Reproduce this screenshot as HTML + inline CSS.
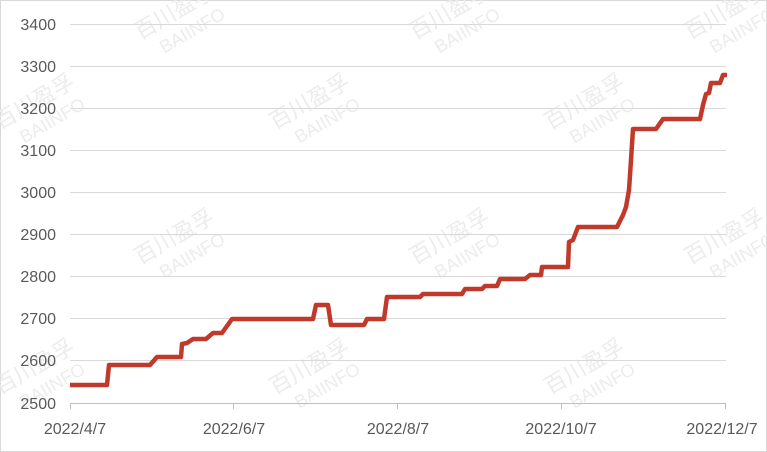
<!DOCTYPE html>
<html><head><meta charset="utf-8"><style>
html,body{margin:0;padding:0;background:#fff;}
svg{display:block;}
</style></head><body>
<svg width="767" height="452" viewBox="0 0 767 452" xmlns="http://www.w3.org/2000/svg" font-family="Liberation Sans, sans-serif">
<rect x="0.5" y="0.5" width="766" height="451" fill="#fff" stroke="#d9d9d9"/>
<g fill="#ececec" font-family="Liberation Sans, Noto Sans CJK SC, sans-serif">
<g transform="translate(140,40) rotate(-30)"><text font-size="22">百川盈孚</text><text x="14" y="24" font-size="18">BAIINFO</text></g>
<g transform="translate(415,40) rotate(-30)"><text font-size="22">百川盈孚</text><text x="14" y="24" font-size="18">BAIINFO</text></g>
<g transform="translate(690,40) rotate(-30)"><text font-size="22">百川盈孚</text><text x="14" y="24" font-size="18">BAIINFO</text></g>
<g transform="translate(0,130) rotate(-30)"><text font-size="22">百川盈孚</text><text x="14" y="24" font-size="18">BAIINFO</text></g>
<g transform="translate(275,130) rotate(-30)"><text font-size="22">百川盈孚</text><text x="14" y="24" font-size="18">BAIINFO</text></g>
<g transform="translate(550,130) rotate(-30)"><text font-size="22">百川盈孚</text><text x="14" y="24" font-size="18">BAIINFO</text></g>
<g transform="translate(140,265) rotate(-30)"><text font-size="22">百川盈孚</text><text x="14" y="24" font-size="18">BAIINFO</text></g>
<g transform="translate(415,265) rotate(-30)"><text font-size="22">百川盈孚</text><text x="14" y="24" font-size="18">BAIINFO</text></g>
<g transform="translate(690,265) rotate(-30)"><text font-size="22">百川盈孚</text><text x="14" y="24" font-size="18">BAIINFO</text></g>
<g transform="translate(0,395) rotate(-30)"><text font-size="22">百川盈孚</text><text x="14" y="24" font-size="18">BAIINFO</text></g>
<g transform="translate(275,395) rotate(-30)"><text font-size="22">百川盈孚</text><text x="14" y="24" font-size="18">BAIINFO</text></g>
<g transform="translate(550,395) rotate(-30)"><text font-size="22">百川盈孚</text><text x="14" y="24" font-size="18">BAIINFO</text></g>
</g>
<g stroke="#d9d9d9" stroke-width="1">
<line x1="70" x2="726" y1="24.5" y2="24.5"/>
<line x1="70" x2="726" y1="66.5" y2="66.5"/>
<line x1="70" x2="726" y1="108.5" y2="108.5"/>
<line x1="70" x2="726" y1="150.5" y2="150.5"/>
<line x1="70" x2="726" y1="192.5" y2="192.5"/>
<line x1="70" x2="726" y1="234.5" y2="234.5"/>
<line x1="70" x2="726" y1="276.5" y2="276.5"/>
<line x1="70" x2="726" y1="318.5" y2="318.5"/>
<line x1="70" x2="726" y1="360.5" y2="360.5"/>
</g>
<g stroke="#bfbfbf" stroke-width="1">
<line x1="70" x2="726" y1="403.5" y2="403.5"/>
<line x1="70.5" x2="70.5" y1="403" y2="409"/>
<line x1="233.5" x2="233.5" y1="403" y2="409"/>
<line x1="397.5" x2="397.5" y1="403" y2="409"/>
<line x1="561.5" x2="561.5" y1="403" y2="409"/>
<line x1="725.5" x2="725.5" y1="403" y2="409"/>
</g>
<g fill="#595959" font-size="16" text-anchor="end">
<text x="56" y="30">3400</text><text x="56" y="72">3300</text><text x="56" y="114">3200</text>
<text x="56" y="156">3100</text><text x="56" y="198">3000</text><text x="56" y="240">2900</text>
<text x="56" y="282">2800</text><text x="56" y="324">2700</text><text x="56" y="366">2600</text>
<text x="56" y="409">2500</text>
</g>
<g fill="#595959" font-size="16" text-anchor="middle">
<text x="75" y="434">2022/4/7</text><text x="234" y="434">2022/6/7</text>
<text x="398" y="434">2022/8/7</text><text x="561" y="434">2022/10/7</text>
<text x="722" y="434">2022/12/7</text>
</g>
<polyline fill="none" stroke="#c0392b" stroke-width="4.5" stroke-linejoin="round" points="70,385 107,385 109,365 150,365 157,357 181,357 182,344 187,343 193,339 206,339 213,333 222,333 232,319 313,319 316,305 328,305 331,325 364,325 367,319 384,319 387,297 420,297 423,294 462,294 465,289 482,289 485,286 497,286 500,279 525,279 530,275 541,275 542,267 568,267 569,242 573,240 578,227 617,227 623,215 626,207 629,190 631,160 633,129 656,129 663,119 700,119 703,105 706,94 709,93 711,83 720,83 723,75 727,75"/>
</svg>
</body></html>
